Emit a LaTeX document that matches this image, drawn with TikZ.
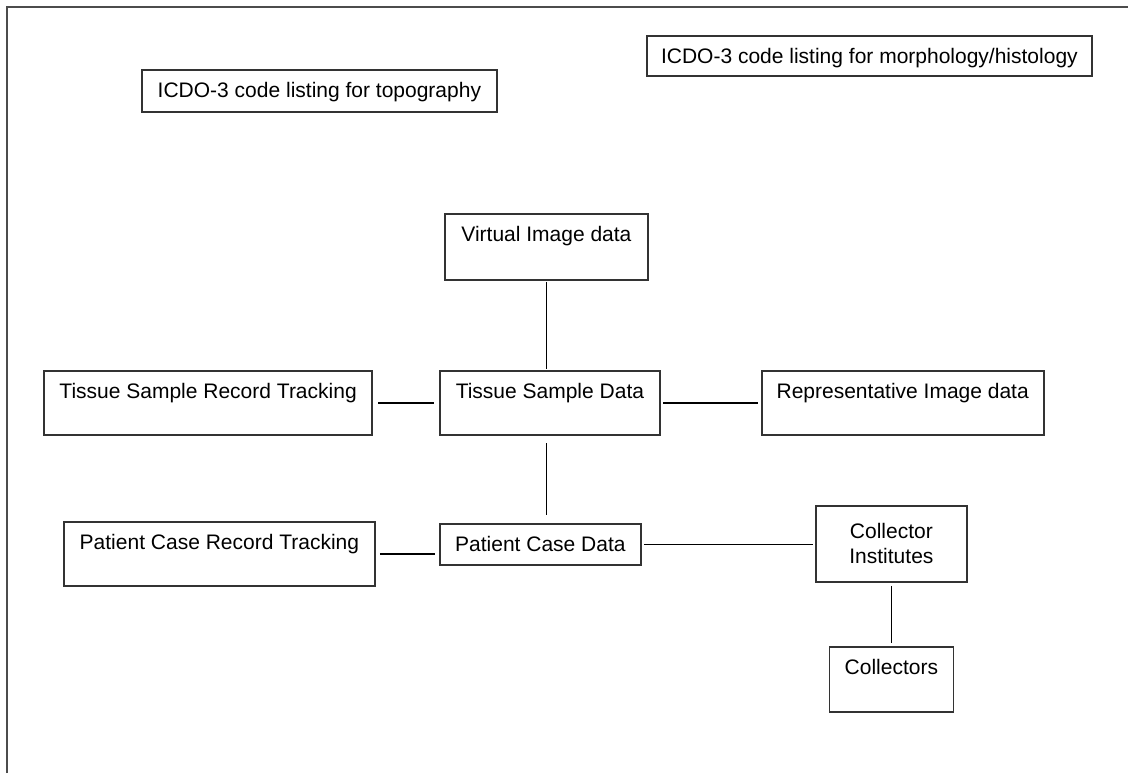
\documentclass[tikz,border=0pt]{standalone}
\usepackage{fontspec}
\setmainfont{Liberation Sans}
\usetikzlibrary{positioning}

\begin{document}
\begin{tikzpicture}[x=0.5pt,y=-0.5pt,
         font=\fontsize{10.5}{12.5}\selectfont,
         box/.style = {draw=black!80, line width=0.9pt, anchor=north west,
         inner xsep=0pt, inner ysep=0pt, align=center},
         topbox/.style = {box, text height=14pt, text depth=#1},
         topbox/.default = 18pt,
         link/.style = {line width=0.7pt, shorten <=#1, shorten >=#1},
         link/.default = 2pt
]
   \useasboundingbox (0,0) rectangle (1128,773);
   \draw[line width=1pt, black!70] (7,773) -- (7,7) -- (1128,7);

   % code listings
   \node[topbox=7pt, minimum width=177.5pt] (topo) at (141,69) {ICDO-3 code listing for topography};
   \node[topbox=6pt, minimum width=222.5pt] (morph) at (646,35) {ICDO-3 code listing for morphology/histology};

   % tissue sample row
   \node[topbox, minimum width=110pt] (tsd) at (439,370) {Tissue Sample Data};
   \node[topbox, minimum width=164pt, left=33pt of tsd] (tsrt) {Tissue Sample Record Tracking};
   \node[topbox, minimum width=141pt, right=50pt of tsd] (rep) {Representative Image data};
   \node[topbox=19pt, minimum width=101.5pt] (virt) at (444,213) {Virtual Image data};

   % patient case row
   \node[topbox=6.5pt, minimum width=100.5pt, below=43.5pt of tsd.south west, anchor=north west] (pcd) {Patient Case Data};
   \node[topbox, minimum width=155.5pt] (pcrt) at (63,521) {Patient Case Record Tracking};
   \node[box, minimum width=75.5pt, minimum height=38pt] (inst) at (815,505) {Collector\\Institutes};
   \node[topbox=18.5pt, minimum width=62pt, below=31.5pt of inst] (coll) {Collectors};

   \draw[link=0.5pt] (virt.south) -- (virt.south |- tsd.north);
   \draw[link=2.5pt] (tsrt.east) -- (tsd.west);
   \draw[link=1.2pt] (tsd.east) -- (rep.west);
   \draw[link=3.7pt] (tsd.south -| virt.south) -- (virt.south |- pcd.north);
   \draw[link] (pcrt.east) -- (pcrt.east -| pcd.west);
   \draw[link=1pt] (pcd.east) -- (pcd.east -| inst.west);
   \draw[link=1.5pt] (inst.south) -- (coll.north);
   %\draw[link] (topo) -- (morph);
\end{tikzpicture}
\end{document}
